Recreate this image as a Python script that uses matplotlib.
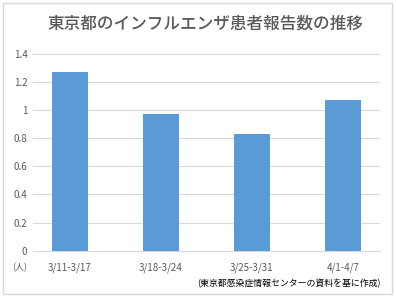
import matplotlib
matplotlib.use("Agg")
import matplotlib.pyplot as plt
from matplotlib.patches import Rectangle

plt.rcParams['font.family'] = ['Noto Sans CJK JP', 'DejaVu Sans']

categories = ["3/11-3/17", "3/18-3/24", "3/25-3/31", "4/1-4/7"]
values = [1.27, 0.97, 0.83, 1.07]
yticks = [0, 0.2, 0.4, 0.6, 0.8, 1, 1.2, 1.4]
ytick_labels = ["0", "0.2", "0.4", "0.6", "0.8", "1", "1.2", "1.4"]
title = "東京都のインフルエンザ患者報告数の推移"
unit = "(人)"
source = "(東京都感染症情報センターの資料を基に作成)"

W, H = 396, 297
fig = plt.figure(figsize=(W/100, H/100), dpi=100)
fig.patch.set_facecolor("white")

# border
fig.patches.append(Rectangle((3/W, 3/H), (392-3)/W, (294-3)/H, transform=fig.transFigure,
                             fill=False, edgecolor="#D9D9D9", linewidth=1))

ax_left, ax_right = 33, 380
ax_top, ax_bottom = 54, 250.7
ax = fig.add_axes([ax_left/W, (H-ax_bottom)/H, (ax_right-ax_left)/W, (ax_bottom-ax_top)/H])

x = list(range(len(categories)))
ax.bar(x, values, width=0.4, color="#5B9BD5", zorder=3)
ax.set_xlim(-0.4066, 3.407)
ax.set_ylim(0, 1.4)
ax.set_yticks(yticks)
ax.set_yticklabels(ytick_labels)
ax.set_xticks(x)
ax.set_xticklabels(categories)
ax.yaxis.grid(True, color="#D9D9D9", linewidth=0.8, zorder=0)
for s in ["top", "right", "left"]:
    ax.spines[s].set_visible(False)
ax.spines["bottom"].set_color("#D9D9D9")
ax.spines["bottom"].set_linewidth(0.8)
ax.tick_params(axis="both", length=0, labelsize=7, colors="#595959")
ax.tick_params(axis="y", pad=4)
ax.tick_params(axis="x", pad=8.5)

fig.text(205/W, 1-24/H, title, ha="center", va="center", fontsize=12, color="#595959",
         fontweight="medium")
fig.text(20/W, 1-268/H, unit, ha="center", va="center", fontsize=6.5, color="#595959")
fig.text(381/W, 1-284/H, source, ha="right", va="center", fontsize=6.4, color="black")

fig.savefig("out.png", dpi=100)
